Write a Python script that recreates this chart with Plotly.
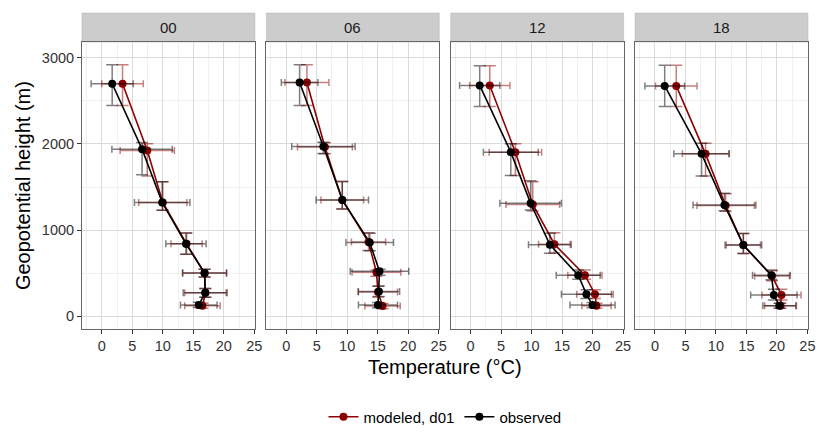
import plotly.graph_objects as go
from plotly.subplots import make_subplots

hours = ["00", "06", "12", "18"]

obs_temp = {
    "00": [1.7, 6.6, 9.9, 13.8, 16.85, 16.95, 15.9],
    "06": [2.2, 6.1, 9.2, 13.7, 15.3, 15.2, 15.05],
    "12": [1.5, 6.6, 9.85, 13.0, 17.65, 19.0, 20.0],
    "18": [1.6, 7.65, 11.4, 14.5, 19.1, 19.5, 20.4],
}
mod_temp = {
    "00": [3.4, 7.45, 10.0, 13.9, 16.85, 17.0, 16.5],
    "06": [3.4, 6.35, 9.2, 13.5, 14.8, 15.05, 15.8],
    "12": [3.15, 7.35, 10.2, 13.75, 18.75, 20.4, 20.65],
    "18": [3.5, 8.3, 11.6, 14.5, 19.2, 20.75, 20.6],
}
obs_height = {
    "00": [2700, 1940, 1320, 840, 500, 270, 130],
    "06": [2715, 1970, 1350, 855, 520, 285, 128],
    "12": [2680, 1905, 1310, 830, 475, 255, 128],
    "18": [2675, 1885, 1290, 825, 475, 245, 120],
}
mod_height = {
    "00": [2700, 1925, 1320, 840, 500, 270, 120],
    "06": [2715, 1965, 1350, 860, 510, 280, 116],
    "12": [2680, 1905, 1298, 835, 475, 255, 120],
    "18": [2675, 1885, 1285, 825, 465, 245, 120],
}
obs_temp_sd = {
    "00": [3.45, 4.95, 4.55, 3.3, 3.6, 3.6, 3.0],
    "06": [3.0, 5.2, 4.3, 3.9, 4.8, 3.4, 3.2],
    "12": [3.3, 4.5, 5.05, 3.5, 3.6, 4.1, 3.7],
    "18": [3.25, 4.55, 5.15, 3.0, 3.1, 3.8, 2.7],
}
mod_temp_sd = {
    "00": [3.4, 4.45, 3.95, 2.55, 3.6, 3.4, 2.9],
    "06": [3.6, 4.5, 3.5, 2.8, 4.0, 3.2, 2.9],
    "12": [3.3, 4.3, 4.4, 2.6, 2.8, 3.0, 2.4],
    "18": [3.4, 3.8, 4.7, 2.8, 2.85, 3.2, 2.6],
}
height_err_up = {
    "00": [221, 78, 240, 125, 45, 50, 30],
    "06": [205, 50, 213, 108, 25, 66, 30],
    "12": [230, 97, 263, 132, 62, 50, 30],
    "18": [240, 124, 136, 136, 62, 66, 30],
}
height_err_down = {
    "00": [252, 298, 89, 120, 45, 50, 30],
    "06": [268, 80, 105, 97, 46, 58, 30],
    "12": [244, 271, 78, 101, 47, 50, 30],
    "18": [240, 256, 66, 97, 54, 58, 30],
}

x_ticks = [0, 5, 10, 15, 20, 25]
y_ticks = [0, 1000, 2000, 3000]

RED = "#8B0000"
RED_ERR = "rgba(139,0,0,0.5)"
BLK_ERR = "rgba(0,0,0,0.5)"
FONT = "Liberation Sans, Arial, sans-serif"

W, H = 824, 437
ML, MR, MT, MB = 82, 9, 13, 108
plot_h = H - MT - MB
strip_h = 29
y_dom_top = 1 - strip_h / plot_h

fig = make_subplots(rows=1, cols=4, shared_yaxes=True,
                    horizontal_spacing=11.6 / (W - ML - MR))

series = [
    ("modeled, d01", mod_temp, mod_height, mod_temp_sd, RED, RED_ERR),
    ("observed", obs_temp, obs_height, obs_temp_sd, "black", BLK_ERR),
]

for i, hr in enumerate(hours):
    for name, temps, heights, sds, col, ecol in series:
        fig.add_trace(go.Scatter(
            x=temps[hr], y=heights[hr], mode="lines+markers", name=name,
            legendgroup=name, showlegend=(i == 0),
            line=dict(color=col, width=1.6),
            marker=dict(color=col, size=8),
            error_x=dict(type="data", array=sds[hr], color=ecol,
                         thickness=1.5, width=3.5),
            error_y=dict(type="data", symmetric=False,
                         array=height_err_up[hr], arrayminus=height_err_down[hr],
                         color=ecol, thickness=1.5, width=6),
        ), row=1, col=i + 1)

axis_common = dict(
    showline=True, mirror=True, linecolor="#666666", linewidth=1,
    showgrid=True, gridcolor="#DADADA", gridwidth=1, zeroline=False,
    ticks="outside", ticklen=4, tickcolor="#333333", tickwidth=1,
    tickfont=dict(family=FONT, size=14.5, color="#333333"),
)

for i in range(4):
    xa = "xaxis" if i == 0 else f"xaxis{i+1}"
    fig.layout[xa].update(
        range=[-3.25, 25.1], tickvals=x_ticks,
        minor=dict(dtick=2.5, tick0=0, showgrid=True, gridcolor="#F0F0F0",
                   gridwidth=0.6, ticks=""),
        **axis_common)
    ya = "yaxis" if i == 0 else f"yaxis{i+1}"
    fig.layout[ya].update(
        range=[-150, 3185], tickvals=y_ticks, domain=[0, y_dom_top],
        minor=dict(dtick=500, tick0=0, showgrid=True, gridcolor="#F0F0F0",
                   gridwidth=0.6, ticks=""),
        **axis_common)
    if i > 0:
        fig.layout[ya].update(ticks="", showticklabels=False)
    xref = "x domain" if i == 0 else f"x{i+1} domain"
    fig.add_shape(type="rect", xref=xref, yref="paper", x0=0, x1=1,
                  y0=y_dom_top, y1=1, fillcolor="#CCCCCC",
                  line=dict(color="#B0B0B0", width=0.5), layer="below")
    fig.add_annotation(xref=xref, yref="paper", x=0.5, y=(1 + y_dom_top) / 2,
                       text=hours[i], showarrow=False,
                       font=dict(family=FONT, size=15, color="#1A1A1A"),
                       xanchor="center", yanchor="middle")

fig.add_annotation(xref="paper", yref="paper", x=0.5, y=(329 - 367) / plot_h,
                   text="Temperature (°C)", showarrow=False,
                   font=dict(family=FONT, size=20, color="black"),
                   xanchor="center", yanchor="middle")
fig.add_annotation(xref="paper", yref="paper", x=(22 - ML) / (W - ML - MR),
                   y=y_dom_top / 2, text="Geopotential height (m)",
                   showarrow=False, textangle=-90,
                   font=dict(family=FONT, size=20, color="black"),
                   xanchor="center", yanchor="middle")

fig.update_layout(
    width=W, height=H,
    margin=dict(l=ML, r=MR, t=MT, b=MB),
    paper_bgcolor="white", plot_bgcolor="white",
    font=dict(family=FONT, size=13, color="black"),
    legend=dict(orientation="h", x=0.5, xanchor="center",
                xref="paper", yref="container",
                y=1 - 417 / H, yanchor="middle",
                font=dict(family=FONT, size=15, color="black"),
                itemwidth=30, tracegroupgap=0),
    showlegend=True,
)

fig.write_html("out.html")
